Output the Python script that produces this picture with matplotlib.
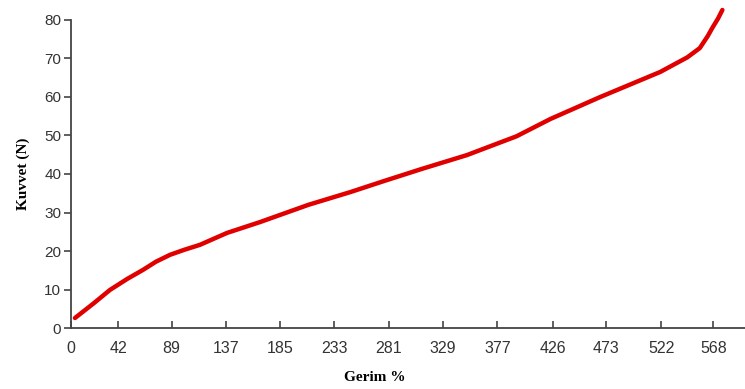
import matplotlib.pyplot as plt

# Data
gerim = [3.5, 20, 34.5, 50, 63.7, 75, 87.5, 100, 114, 138, 167, 210, 247, 276,
         310, 350, 394, 424, 468, 521, 545, 556, 563, 567, 572, 576]
kuvvet = [2.6, 6.4, 9.9, 12.8, 15.1, 17.2, 19.0, 20.3, 21.6, 24.7, 27.5, 32.0,
          35.3, 38.1, 41.3, 44.9, 49.8, 54.3, 60.0, 66.5, 70.3, 72.7, 75.8, 77.9, 80.3, 82.6]
x_ticks = [0, 42, 89, 137, 185, 233, 281, 329, 377, 426, 473, 522, 568]
y_ticks = [0, 10, 20, 30, 40, 50, 60, 70, 80]

fig = plt.figure(figsize=(7.45, 3.89), dpi=100)
ax = fig.add_axes([0.0953, 0.1568, 0.9047, 0.7918])

ax.plot(gerim, kuvvet, color='#e00000', linewidth=3.2, solid_capstyle='round',
        solid_joinstyle='round', clip_on=False)

ax.set_xlim(0, 596)
ax.set_ylim(0, 80)
ax.set_xticks(x_ticks)
ax.set_yticks(y_ticks)

for s in ['top', 'right']:
    ax.spines[s].set_visible(False)
for s in ['left', 'bottom']:
    ax.spines[s].set_color('#444444')
    ax.spines[s].set_linewidth(1.3)

ax.tick_params(axis='x', direction='in', length=5, width=1.2, color='#444444',
               labelsize=11.5, labelcolor='#333333', pad=9)
ax.tick_params(axis='y', direction='out', length=5, width=1.2, color='#444444',
               labelsize=11, labelcolor='#333333', pad=2)
for lab in ax.get_xticklabels() + ax.get_yticklabels():
    lab.set_family('Liberation Sans')

ax.set_xlabel('Gerim %', family='Liberation Serif', fontweight='bold',
              fontsize=11)
ax.set_ylabel('Kuvvet (N)', family='Liberation Serif', fontweight='bold',
              fontsize=11, labelpad=10)
ax.xaxis.set_label_coords(0.45, -0.14)

plt.savefig('out.png', dpi=100)
